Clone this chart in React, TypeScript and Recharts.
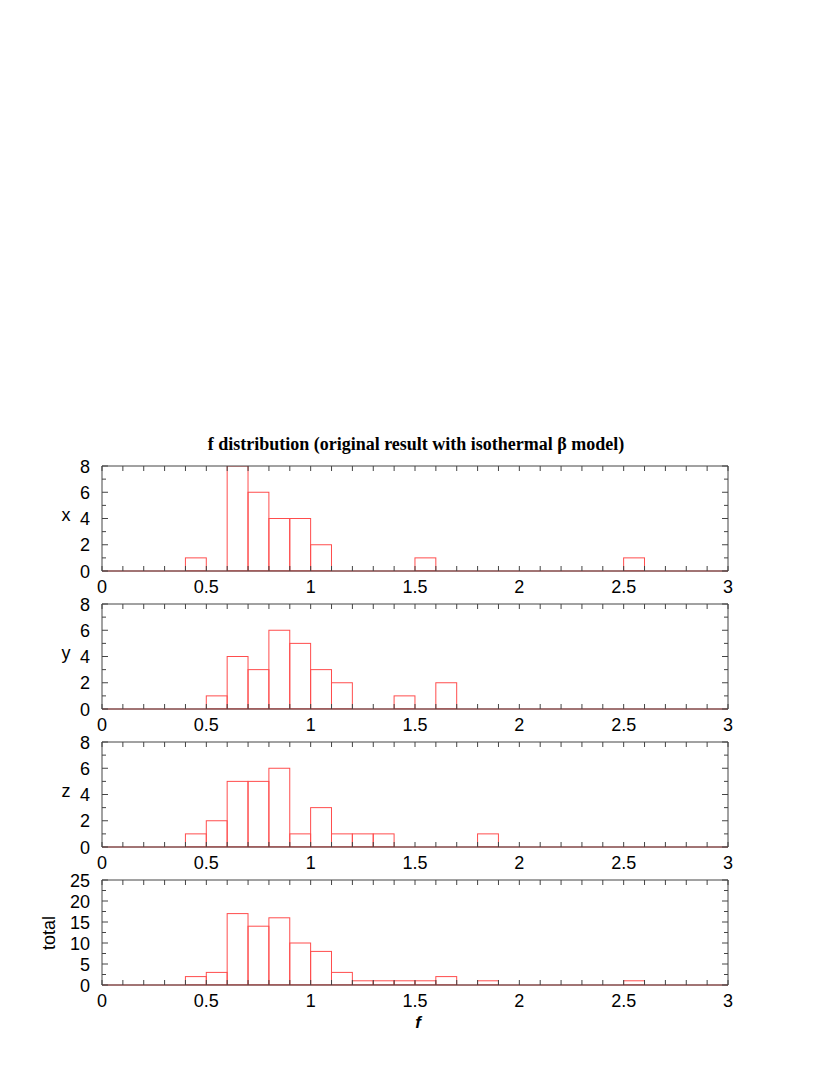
import React from 'react';
import { BarChart, Bar, XAxis, YAxis, ReferenceLine } from 'recharts';

// bin left edges (width 0.1) and counts per bin
const binStarts = [
  0.0, 0.1, 0.2, 0.3, 0.4, 0.5, 0.6, 0.7, 0.8, 0.9,
  1.0, 1.1, 1.2, 1.3, 1.4, 1.5, 1.6, 1.7, 1.8, 1.9,
  2.0, 2.1, 2.2, 2.3, 2.4, 2.5, 2.6, 2.7, 2.8, 2.9,
];
const xCounts = [0, 0, 0, 0, 1, 0, 8, 6, 4, 4, 2, 0, 0, 0, 0, 1, 0, 0, 0, 0, 0, 0, 0, 0, 0, 1, 0, 0, 0, 0];
const yCounts = [0, 0, 0, 0, 0, 1, 4, 3, 6, 5, 3, 2, 0, 0, 1, 0, 2, 0, 0, 0, 0, 0, 0, 0, 0, 0, 0, 0, 0, 0];
const zCounts = [0, 0, 0, 0, 1, 2, 5, 5, 6, 1, 3, 1, 1, 1, 0, 0, 0, 0, 1, 0, 0, 0, 0, 0, 0, 0, 0, 0, 0, 0];
const totalCounts = [0, 0, 0, 0, 2, 3, 17, 14, 16, 10, 8, 3, 1, 1, 1, 1, 2, 0, 1, 0, 0, 0, 0, 0, 0, 1, 0, 0, 0, 0];

const xTicks = [
  0, 0.1, 0.2, 0.3, 0.4, 0.5, 0.6, 0.7, 0.8, 0.9,
  1, 1.1, 1.2, 1.3, 1.4, 1.5, 1.6, 1.7, 1.8, 1.9,
  2, 2.1, 2.2, 2.3, 2.4, 2.5, 2.6, 2.7, 2.8, 2.9, 3,
];
const smallYTicks = [0, 1, 2, 3, 4, 5, 6, 7, 8];
const smallYLabels = [0, 2, 4, 6, 8];
const totalYTicks = [0, 2.5, 5, 7.5, 10, 12.5, 15, 17.5, 20, 22.5, 25];
const totalYLabels = [0, 5, 10, 15, 20, 25];

const TITLE = 'f distribution (original result with isothermal \u03b2 model)';
const BIN_WIDTH = 0.1;

const PLOT_LEFT = 102;
const PLOT_W = 626;
const PLOT_H = 105;
const TOP_PAD = 15;
const CHART_H = 170;
const BAR_PX = (PLOT_W * BIN_WIDTH) / 3;

const RED = '#ff4d4d';
const AXIS = '#444';
const SANS = '"Liberation Sans", Arial, sans-serif';

const XTick = (props: any) => {
  const { x, y, payload } = props;
  const v = payload.value;
  const major = Math.abs(v * 2 - Math.round(v * 2)) < 1e-6;
  return (
    <g>
      <line x1={x} x2={x} y1={y} y2={y - 5} stroke={AXIS} />
      <line x1={x} x2={x} y1={y - PLOT_H} y2={y - PLOT_H + 5} stroke={AXIS} />
      {major && (
        <text x={x} y={y + 22} textAnchor="middle" fontFamily={SANS} fontSize={18} fill="#000">
          {String(Number(v.toFixed(1)))}
        </text>
      )}
    </g>
  );
};

const makeYTick = (labels: number[]) => (props: any) => {
  const { x, y, payload } = props;
  const v = payload.value;
  const major = labels.includes(v);
  const len = major ? 6 : 4;
  return (
    <g>
      <line x1={x} x2={x + len} y1={y} y2={y} stroke={AXIS} />
      <line x1={x + PLOT_W - len} x2={x + PLOT_W} y1={y} y2={y} stroke={AXIS} />
      {major && (
        <text x={x - 12} y={y + 6.5} textAnchor="end" fontFamily={SANS} fontSize={18} fill="#000">
          {v}
        </text>
      )}
    </g>
  );
};

// outline box of one bin, always a full bin wide around the bar centre
const BinBox = (props: any) => {
  const { x, y, width, height } = props;
  if (!height || height <= 0) return null;
  const cx = x + width / 2;
  return <rect x={cx - BAR_PX / 2} y={y} width={BAR_PX} height={height} fill="none" stroke={RED} strokeWidth={1} />;
};

interface PanelProps {
  counts: number[];
  top: number;
  yMax: number;
  yTicks: number[];
  yLabels: number[];
}

const Panel: React.FC<PanelProps> = ({ counts, top, yMax, yTicks, yLabels }) => {
  const data = binStarts.map((s, i) => ({ mid: s + BIN_WIDTH / 2, count: counts[i] }));
  return (
    <div style={{ position: 'absolute', left: 0, top: top - TOP_PAD }}>
      <BarChart
        width={830}
        height={CHART_H}
        data={data}
        margin={{ top: TOP_PAD, right: 830 - PLOT_LEFT - PLOT_W, bottom: CHART_H - TOP_PAD - PLOT_H - 1, left: PLOT_LEFT - 1 }}
        barCategoryGap={0}
        barGap={0}
      >
        <XAxis
          dataKey="mid"
          type="number"
          domain={[0, 3]}
          ticks={xTicks}
          interval={0}
          height={1}
          tickSize={0}
          tickMargin={0}
          tickLine={false}
          tick={XTick}
          axisLine={{ stroke: AXIS }}
          allowDataOverflow
        />
        <YAxis
          type="number"
          domain={[0, yMax]}
          ticks={yTicks}
          interval={0}
          width={1}
          tickSize={0}
          tickMargin={0}
          tickLine={false}
          tick={makeYTick(yLabels)}
          axisLine={{ stroke: AXIS }}
          allowDataOverflow
        />
        <ReferenceLine y={yMax} stroke={AXIS} />
        <ReferenceLine x={3} stroke={AXIS} />
        <ReferenceLine y={0} stroke={RED} />
        <Bar dataKey="count" fill="none" stroke={RED} barSize={BAR_PX} shape={BinBox} isAnimationActive={false} />
      </BarChart>
    </div>
  );
};

export default function App() {
  return (
    <div style={{ position: 'absolute', left: 0, top: 0, width: 830, height: 1075, background: '#fff' }}>
      <svg width={830} height={1075} style={{ position: 'absolute', left: 0, top: 0 }}>
        <text x={416} y={450} textAnchor="middle" fontFamily='"Liberation Serif", "Times New Roman", serif' fontWeight="bold" fontSize={18}>
          {TITLE}
        </text>
        <text x={66} y={521} textAnchor="middle" fontFamily={SANS} fontSize={18}>x</text>
        <text x={66} y={659} textAnchor="middle" fontFamily={SANS} fontSize={18}>y</text>
        <text x={66} y={797} textAnchor="middle" fontFamily={SANS} fontSize={18}>z</text>
        <text x={55} y={933} textAnchor="middle" fontFamily={SANS} fontSize={18} transform="rotate(-90 55 933)">total</text>
        <text x={418} y={1028} textAnchor="middle" fontFamily={SANS} fontSize={17} fontWeight="bold" fontStyle="italic">f</text>
      </svg>
      <Panel counts={xCounts} top={466} yMax={8} yTicks={smallYTicks} yLabels={smallYLabels} />
      <Panel counts={yCounts} top={604} yMax={8} yTicks={smallYTicks} yLabels={smallYLabels} />
      <Panel counts={zCounts} top={742} yMax={8} yTicks={smallYTicks} yLabels={smallYLabels} />
      <Panel counts={totalCounts} top={880} yMax={25} yTicks={totalYTicks} yLabels={totalYLabels} />
    </div>
  );
}
